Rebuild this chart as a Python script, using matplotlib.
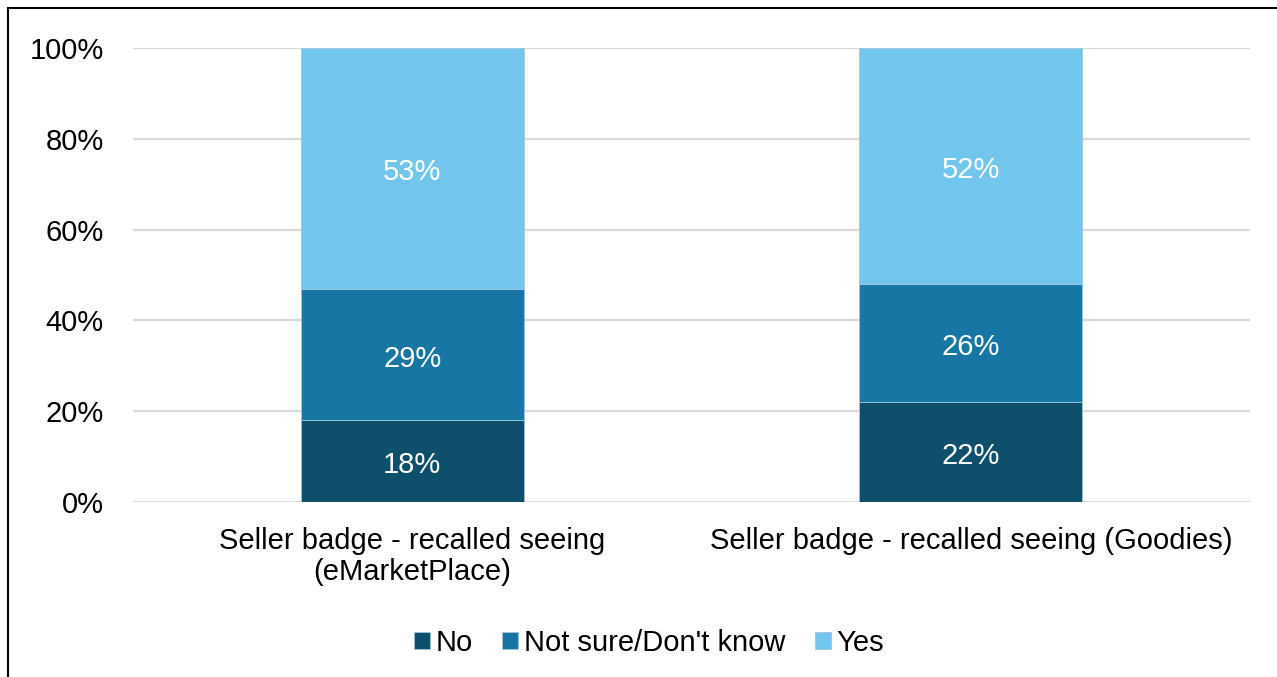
import matplotlib
matplotlib.use("Agg")
import matplotlib.pyplot as plt
from matplotlib.patches import Rectangle
import numpy as np

categories = ["Seller badge - recalled seeing\n(eMarketPlace)", "Seller badge - recalled seeing (Goodies)"]
series_names = ["No", "Not sure/Don't know", "Yes"]
no_vals = [18, 22]
notsure_vals = [29, 26]
yes_vals = [53, 52]
colors = ["#0E4F6C", "#1776A4", "#72C6ED"]
yticks = [0, 20, 40, 60, 80, 100]

plt.rcParams['font.family'] = ['Liberation Sans', 'DejaVu Sans']
FS = 21.0
W, H = 1277, 677
fig = plt.figure(figsize=(W/100, H/100), dpi=100)
ax = fig.add_axes([133/W, 1 - 502/H, (1250-133)/W, (502-48)/H])

x = np.arange(len(categories))
bottom = np.zeros(len(categories))
handles = []
for name, vals, c in zip(series_names, [no_vals, notsure_vals, yes_vals], colors):
    vals = np.array(vals, dtype=float)
    b = ax.bar(x, vals, 0.4, bottom=bottom, color=c, edgecolor="#9fc6da", linewidth=0.6, label=name, zorder=3)
    handles.append(b)
    for xi, v, bt in zip(x, vals, bottom):
        ax.annotate(f"{int(v)}%", (xi, bt + v/2), xytext=(0, -3), textcoords="offset points",
                    ha="center", va="center", color="white", fontsize=FS, zorder=4)
    bottom += vals

ax.set_xlim(-0.5, 1.5)
ax.set_ylim(0, 100)
ax.set_yticks(yticks)
ax.set_yticklabels([f"{t}%" for t in yticks], fontsize=FS)
ax.set_xticks(x)
ax.set_xticklabels(categories, fontsize=FS, linespacing=1.12)
ax.tick_params(axis='both', length=0, colors='black')
ax.tick_params(axis='y', pad=21)
ax.tick_params(axis='x', pad=18)
for s in ax.spines.values():
    s.set_visible(False)
ax.grid(axis='y', color="#D9D9D9", linewidth=1.6, zorder=0)
ax.set_axisbelow(True)

fig.legend(handles=handles, labels=series_names, loc="center", bbox_to_anchor=(649/W, 1 - 643/H),
           ncol=3, frameon=False, fontsize=FS, handlelength=0.55, handleheight=0.55,
           handletextpad=0.2, columnspacing=1.0)

fig.patches.append(Rectangle((7.5/W, -0.1), 1.2, (H - 7.5)/H + 0.1, transform=fig.transFigure,
                             fill=False, edgecolor="black", linewidth=1.5, clip_on=False))

fig.savefig("out.png", dpi=100)
